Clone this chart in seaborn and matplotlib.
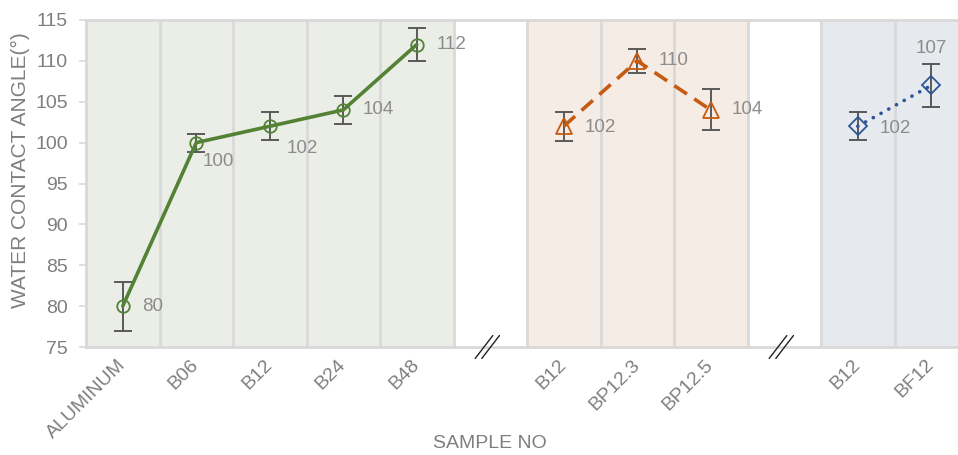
import numpy as np
import pandas as pd
import matplotlib
matplotlib.use("Agg")
import matplotlib.pyplot as plt
import matplotlib.transforms as mtransforms
import seaborn as sns

# Sample groups, measured contact angles and their standard deviations
group_names = ["B series", "BP series", "BF series"]
group_samples = [
    ["ALUMINUM", "B06", "B12", "B24", "B48"],
    ["B12", "BP12.3", "BP12.5"],
    ["B12", "BF12"],
]
group_angles = [
    [80, 100, 102, 104, 112],
    [102, 110, 104],
    [102, 107],
]
group_errors = [
    [3.0, 1.1, 1.7, 1.7, 2.0],
    [1.8, 1.5, 2.5],
    [1.7, 2.6],
]

# Styling
line_colors = ["#548235", "#C55A11", "#2F5597"]
band_colors = ["#EAEEE7", "#F5ECE6", "#E6E9EE"]
markers = ["o", "^", "D"]
marker_sizes = [9, 11, 9]
line_styles = ["-", (0, (4.2, 2.4)), (0, (0.05, 2.4))]
cap_styles = ["butt", "butt", "round"]
grid_color = "#D9D9D9"
text_color = "#7F7F7F"
label_color = "#8C8C8C"

# Value-label offsets (pixels, right/down positive) per point
label_offsets = [
    [(19, 0), (6, 19), (17, 22), (19, 0), (20, 0)],
    [(21, 1), (21, 0), (21, 0)],
    [(22, 2), (0, -37)],
]

sns.set_theme(style="white")
plt.rcParams["font.family"] = ["Liberation Sans", "DejaVu Sans"]

fig = plt.figure(figsize=(9.58, 4.55), dpi=100)
ax = fig.add_axes([86 / 958, 108 / 455, 872 / 958, 327 / 455])

# Slot layout: each group takes one slot per sample, with an empty slot between groups
positions = []
gap_slots = []
offset = 0
for gi, samples in enumerate(group_samples):
    positions.append(list(range(offset, offset + len(samples))))
    offset += len(samples)
    if gi < len(group_samples) - 1:
        gap_slots.append(offset)
        offset += 1

frames = []
for gi, name in enumerate(group_names):
    frames.append(pd.DataFrame({
        "pos": positions[gi],
        "sample": group_samples[gi],
        "angle": group_angles[gi],
        "err": group_errors[gi],
        "group": name,
    }))
df = pd.concat(frames, ignore_index=True)

# Shaded background bands and slot separators
for gi in range(len(group_names)):
    ax.axvspan(positions[gi][0] - 0.5, positions[gi][-1] + 0.5,
               color=band_colors[gi], zorder=0, lw=0)
for b in np.arange(-0.5, offset - 0.5, 1.0):
    ax.axvline(b, color=grid_color, lw=2, zorder=0.5)

# Error bars
ax.errorbar(df["pos"], df["angle"], yerr=df["err"], fmt="none",
            ecolor="#595959", elinewidth=1.4, capsize=6.5, capthick=1.4,
            zorder=2)

# Lines with open markers
for gi, name in enumerate(group_names):
    sub = df[df["group"] == name]
    sns.lineplot(data=sub, x="pos", y="angle", ax=ax, errorbar=None,
                 color=line_colors[gi], lw=2.6, linestyle=line_styles[gi],
                 dash_capstyle=cap_styles[gi], solid_capstyle="round",
                 marker=markers[gi], markersize=marker_sizes[gi],
                 markerfacecolor="none", markeredgecolor=line_colors[gi],
                 markeredgewidth=1.3, zorder=3)

# Value labels
for gi, name in enumerate(group_names):
    sub = df[df["group"] == name].reset_index(drop=True)
    for i, row in sub.iterrows():
        dx, dy = label_offsets[gi][i]
        ha = "center" if dx == 0 else "left"
        ax.annotate(f"{row['angle']:g}", (row["pos"], row["angle"]),
                    xytext=(dx * 0.72, -dy * 0.72), textcoords="offset points",
                    ha=ha, va="center", color=label_color, fontsize=13.5,
                    zorder=4)

# Axes limits and ticks
ax.set_xlim(-0.5, -0.5 + 872 / 73.5)
ax.set_ylim(75, 115)
ax.set_yticks(np.arange(75, 116, 5))
ax.set_xticks(df["pos"])
ax.set_xticklabels(df["sample"], rotation=45, ha="right", va="center",
                   rotation_mode="anchor")
ax.tick_params(axis="x", length=0, pad=11, labelsize=14, labelcolor=text_color)
ax.tick_params(axis="y", length=5, width=1.2, color=grid_color, pad=8,
               labelsize=14, labelcolor=text_color, left=True)

for side, sp in ax.spines.items():
    sp.set_color(grid_color)
    sp.set_linewidth(2)
    sp.set_visible(side != "right")

ax.set_ylabel("WATER CONTACT ANGLE(°)", color=text_color, fontsize=15)
ax.yaxis.set_label_coords(-0.064, 0.54)
ax.set_xlabel("SAMPLE NO", color=text_color, fontsize=14)
ax.xaxis.set_label_coords((490 - 86) / 872, -0.27)

# Axis-break marks in the empty slots
trans = mtransforms.blended_transform_factory(ax.transData, ax.transAxes)
for g in gap_slots:
    for shift in (-0.045, 0.045):
        ax.plot([g - 0.12 + shift - 0.04, g + 0.12 + shift - 0.04],
                [-0.035, 0.035], transform=trans, color="#222222", lw=1,
                clip_on=False, zorder=5)

fig.savefig("out.png", dpi=100)
